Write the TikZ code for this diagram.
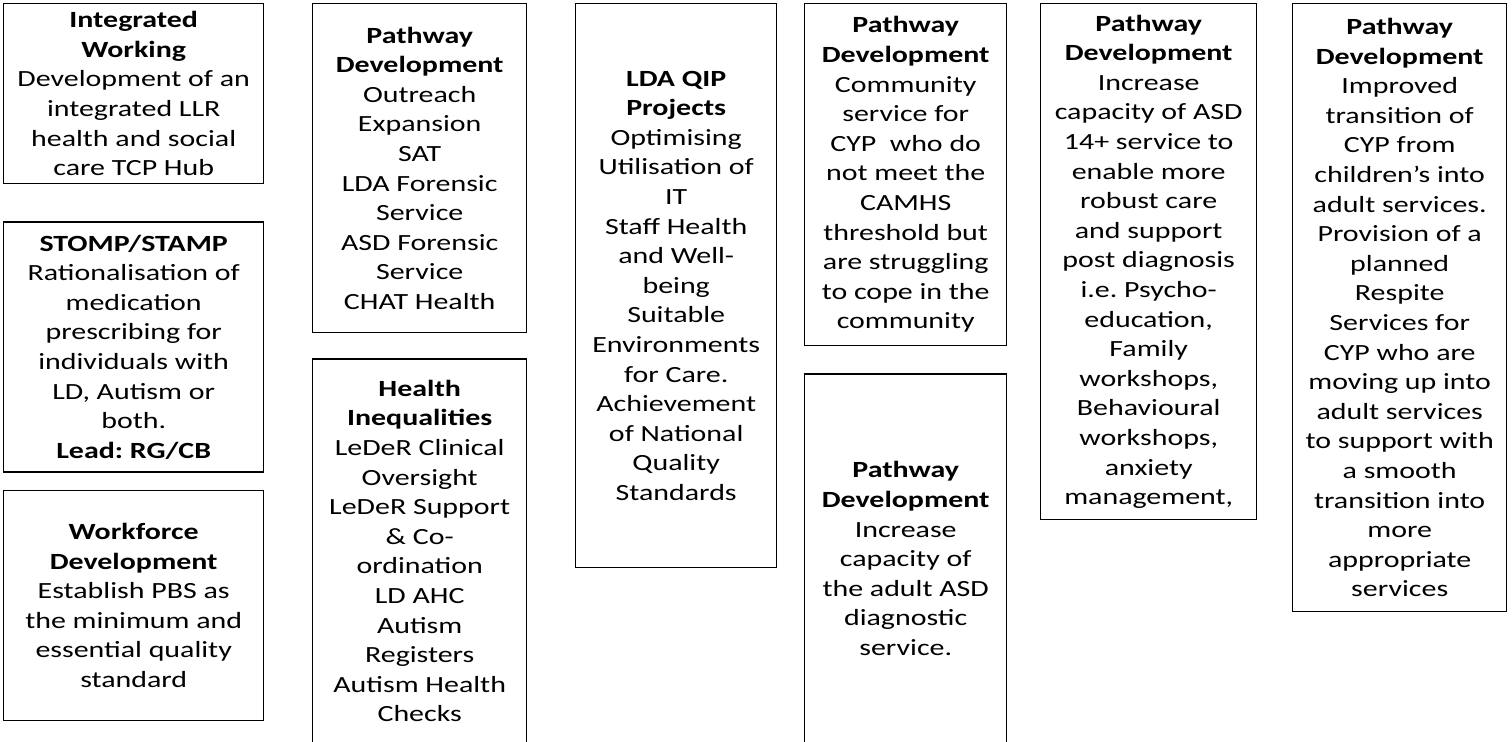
\documentclass[tikz,border=0pt]{standalone}
\usepackage{fontspec}
\setmainfont{Carlito}[FakeStretch=1.29]
\usetikzlibrary{positioning}
\frenchspacing
\tikzset
{
    planbox/.style = {rectangle, draw=black, line width=0.7pt, align=center, inner sep=2pt, font=\fontsize{11.6}{14.8}\selectfont},
    widecol/.style = {planbox, minimum width=130pt},
    narrowcol/.style = {planbox, minimum width=107pt}
}

\begin{document}
\begin{tikzpicture}[x=0.5pt, y=-0.5pt]
	\useasboundingbox (0,0) rectangle (1512,742);
	% first column
	\node[widecol, minimum height=90pt, anchor=north west] (integ) at (3,3)
		{\textbf{Integrated}\\ \textbf{Working}\\ Development of an\\ integrated LLR\\ health and social\\ care TCP Hub};
	\node[widecol, minimum height=125pt, below=18.5pt of integ] (stomp)
		{\textbf{STOMP/STAMP}\\ Rationalisation of\\ medication\\ prescribing for\\ individuals with\\ LD, Autism or\\ both.\\ \textbf{Lead: RG/CB}};
	\node[widecol, minimum height=115pt, below=8.5pt of stomp] (workforce)
		{\textbf{Workforce}\\ \textbf{Development}\\ Establish PBS as\\ the minimum and\\ essential quality\\ standard};
	% second column
	\node[narrowcol, minimum height=164.5pt, anchor=north west] (outreach) at (312,3)
		{\textbf{Pathway}\\ \textbf{Development}\\ Outreach\\ Expansion\\ SAT\\ LDA Forensic\\ Service\\ ASD Forensic\\ Service\\ CHAT Health};
	\node[narrowcol, minimum height=192pt, below=12.5pt of outreach] (healthineq)
		{\textbf{Health}\\ \textbf{Inequalities}\\ LeDeR Clinical\\ Oversight\\ LeDeR Support\\ \& Co-\\ ordination\\ LD AHC\\ Autism\\ Registers\\ Autism Health\\ Checks};
	% third column
	\node[planbox, minimum width=100.5pt, minimum height=282pt, anchor=north west] (ldaqip) at (575,3)
		{\textbf{LDA QIP}\\ \textbf{Projects}\\ Optimising\\ Utilisation of\\ IT\\ Staff Health\\ and Well-\\ being\\ Suitable\\ Environments\\ for Care.\\ Achievement\\ of National\\ Quality\\ Standards};
	% fourth column
	\node[planbox, minimum width=101pt, minimum height=171pt, anchor=north west] (community) at (804,3)
		{\textbf{Pathway}\\ \textbf{Development}\\ Community\\ service for\\ CYP\ \ who do\\ not meet the\\ CAMHS\\ threshold but\\ are struggling\\ to cope in the\\ community};
	\node[planbox, minimum width=101pt, minimum height=184.5pt, below=13.5pt of community] (adultasd)
		{\textbf{Pathway}\\ \textbf{Development}\\ Increase\\ capacity of\\ the adult ASD\\ diagnostic\\ service.};
	% fifth and sixth columns
	\node[planbox, minimum width=108pt, minimum height=258pt, anchor=north west] (asdfourteen) at (1040,3)
		{\textbf{Pathway}\\ \textbf{Development}\\ Increase\\ capacity of ASD\\ 14+ service to\\ enable more\\ robust care\\ and support\\ post diagnosis\\ i.e. Psycho-\\ education,\\ Family\\ workshops,\\ Behavioural\\ workshops,\\ anxiety\\ management,};
	\node[narrowcol, minimum height=304pt, anchor=north west] (transition) at (1292,3)
		{\textbf{Pathway}\\ \textbf{Development}\\ Improved\\ transition of\\ CYP from\\ children's into\\ adult services.\\ Provision of a\\ planned\\ Respite\\ Services for\\ CYP who are\\ moving up into\\ adult services\\ to support with\\ a smooth\\ transition into\\ more\\ appropriate\\ services};
\end{tikzpicture}
\end{document}
